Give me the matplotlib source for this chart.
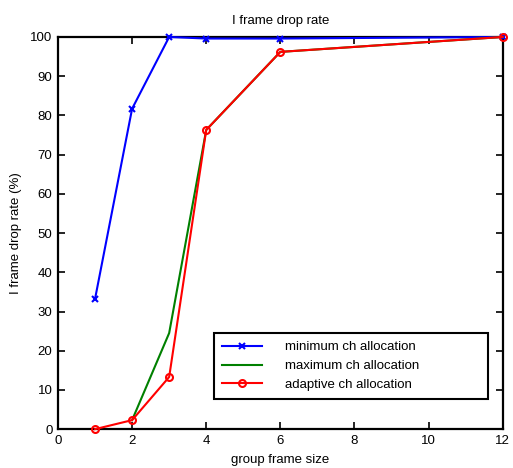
import matplotlib.pyplot as plt

plt.rcParams['font.family'] = ['Liberation Sans', 'DejaVu Sans']

x_min = [1, 2, 3, 4, 6, 12]
y_min = [33.2, 81.7, 100, 99.6, 99.6, 100]
x_max = [2, 3, 4, 6, 12]
y_max = [2.3, 24.5, 76.3, 96.2, 100]
x_adp = [1, 2, 3, 4, 6, 12]
y_adp = [0, 2.3, 13.3, 76.3, 96.2, 100]
xticks = [0, 2, 4, 6, 8, 10, 12]
yticks = [0, 10, 20, 30, 40, 50, 60, 70, 80, 90, 100]


def main():
    fig = plt.figure(figsize=(5.13, 4.68), dpi=100)
    ax = fig.add_axes([0.113, 0.083, 0.867, 0.838])

    ax.plot(x_min, y_min, color='#0000ff', marker='x', markersize=4,
            markeredgewidth=1.5, linewidth=1.5, clip_on=False, zorder=3,
            label='minimum ch allocation')
    ax.plot(x_max, y_max, color='#008000', linewidth=1.5, clip_on=False,
            zorder=3, label='maximum ch allocation')
    ax.plot(x_adp, y_adp, color='#ff0000', marker='o', markersize=5,
            markerfacecolor='none', markeredgewidth=1.5, linewidth=1.5,
            clip_on=False, zorder=3, label='adaptive ch allocation')

    ax.set_xlim(0, 12)
    ax.set_ylim(0, 100)
    ax.set_xticks(xticks)
    ax.set_yticks(yticks)
    ax.tick_params(direction='in', top=True, right=True, labelsize=9.5,
                   length=5, width=1.2, pad=4)
    for s in ax.spines.values():
        s.set_linewidth(1.6)

    ax.set_title("I frame drop rate", fontsize=9.5, pad=9)
    ax.set_xlabel("group frame size", fontsize=9.5, labelpad=5)
    ax.set_ylabel("I frame drop rate (%)", fontsize=9.5, labelpad=6)

    leg = ax.legend(loc='lower left', bbox_to_anchor=(0.351, 0.077, 0.616, 0.173),
                    mode='expand', borderaxespad=0, fontsize=9.5,
                    fancybox=False, framealpha=1, edgecolor='black',
                    handlelength=3.0, borderpad=0.6, labelspacing=0.5,
                    handletextpad=1.75)
    leg.get_frame().set_linewidth(1.5)

    fig.savefig("out.png", dpi=100)


if __name__ == "__main__":
    main()
